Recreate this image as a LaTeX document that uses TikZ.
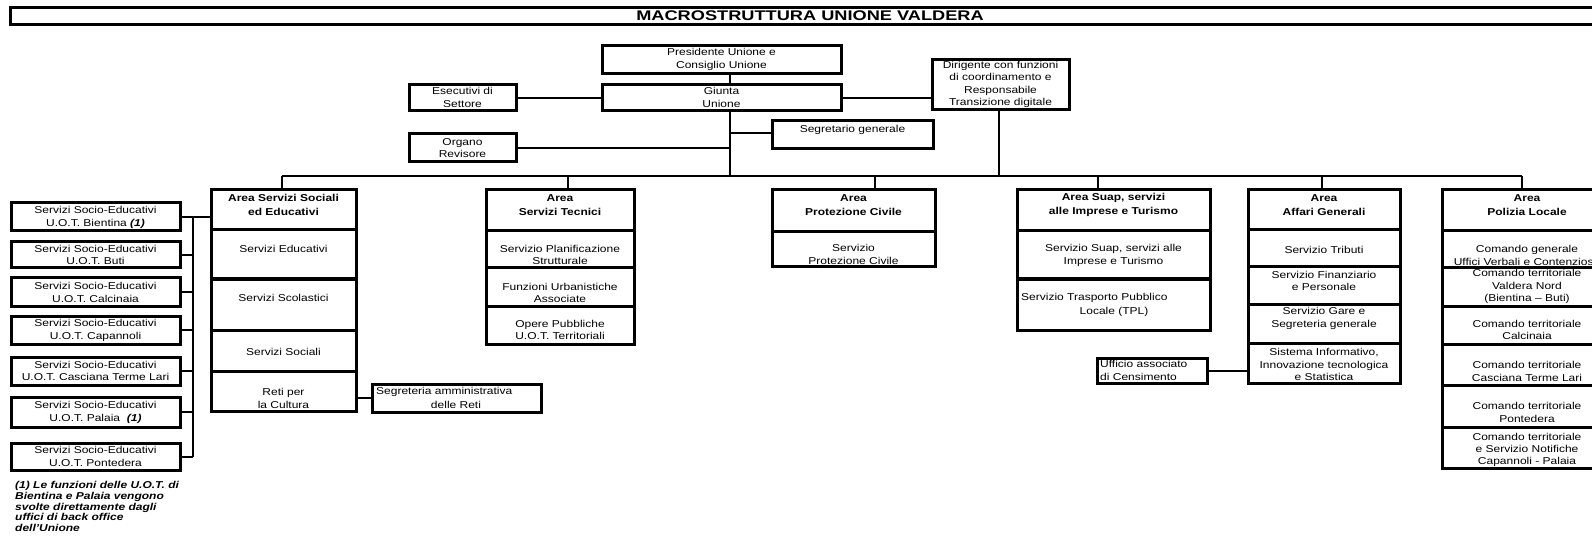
\documentclass[tikz,border=0pt]{standalone}
\usepackage{fontspec}
\setmainfont{Liberation Sans}[FakeStretch=1.2]
\newfontfamily\titlefont{Liberation Sans}[FakeStretch=1.3]
\usetikzlibrary{fit}
\tikzset{
  bx/.style={draw, line width=3pt, inner sep=0pt},
  conn/.style={line width=2pt},
  txt/.style={align=center, inner sep=0pt, font=\fontsize{10}{12.3}\selectfont},
  hdr/.style={align=center, inner sep=0pt, font=\fontsize{10}{13.5}\selectfont\bfseries},
  ttl/.style={inner sep=0pt, font=\titlefont\fontsize{14}{15}\selectfont\bfseries},
  note/.style={align=left, inner sep=0pt, font=\fontsize{10}{10.8}\selectfont\bfseries\itshape},
}
% style, name, x1, y1, x2, y2, ytext, text
\newcommand\tb[8]{%
  \node[bx, fit={(#3,#4) (#5,#6)}] (#2) {};
  \node[#1] (#2-t) at ({(#3+#5)/2},#7) {#8};}
\newcommand\eb[5]{\node[bx, fit={(#2,#3) (#4,#5)}] (#1) {};}
\newcommand\fn{\textbf{\textit{(1)}}}
\begin{document}
\begin{tikzpicture}[x=1pt,y=-1pt]
\useasboundingbox (0,0) rectangle (1592,537);
\clip (0,0) rectangle (1592,537);

% title
\eb{title}{10}{8}{1612}{25}
\node[ttl] (title-t) at (810,16) {MACROSTRUTTURA UNIONE VALDERA};

% top boxes
\tb{txt}{pres}{602}{46}{841}{74}{59.5}{Presidente Unione e\\Consiglio Unione}
\tb{txt}{giunta}{602}{85}{841}{111}{97.5}{Giunta\\Unione}
\tb{txt}{es}{409}{85}{516}{111}{97.5}{Esecutivi di\\Settore}
\tb{txt}{org}{409}{134}{516}{162}{148}{Organo\\Revisore}
\tb{txt}{dir}{932}{60}{1069}{110}{84.5}{Dirigente con funzioni\\di coordinamento e\\Responsabile\\Transizione digitale}
\tb{txt}{sg}{772}{121}{933}{149}{129.5}{Segretario generale}

% Area Servizi Sociali ed Educativi
\tb{hdr}{soch}{211}{190}{356}{230}{205}{Area Servizi Sociali\\ed Educativi}
\tb{txt}{soc1}{211}{230}{356}{279}{249}{Servizi Educativi}
\tb{txt}{soc2}{211}{279}{356}{330}{298}{Servizi Scolastici}
\tb{txt}{soc3}{211}{330}{356}{371}{352}{Servizi Sociali}
\tb{txt}{soc4}{211}{371}{356}{411}{398.5}{Reti per\\la Cultura}
\eb{segr}{372}{384}{541}{412}
\node[txt, anchor=west] (segr-a) at (376,391.5) {Segreteria amministrativa};
\node[txt] (segr-b) at (456,404.5) {delle Reti};

% Area Servizi Tecnici
\tb{hdr}{tech}{486}{190}{634}{231}{205}{Area\\Servizi Tecnici}
\tb{txt}{tec1}{486}{231}{634}{268}{255}{Servizio Planificazione\\Strutturale}
\tb{txt}{tec2}{486}{268}{634}{306}{293}{Funzioni Urbanistiche\\Associate}
\tb{txt}{tec3}{486}{306}{634}{344}{330}{Opere Pubbliche\\U.O.T. Territoriali}

% Area Protezione Civile
\tb{hdr}{proh}{772}{190}{935}{232}{205}{Area\\Protezione Civile}
\tb{txt}{pro1}{772}{232}{935}{267}{254.5}{Servizio\\Protezione Civile}

% Area Suap
\tb{hdr}{suah}{1017}{190}{1210}{231}{205}{Area Suap, servizi\\alle Imprese e Turismo}
\tb{txt}{sua1}{1017}{231}{1210}{279}{255.5}{Servizio Suap, servizi alle\\Imprese e Turismo}
\eb{sua2}{1017}{279}{1210}{330}
\node[txt, anchor=west] (sua2-a) at (1021,298) {Servizio Trasporto Pubblico};
\node[txt] (sua2-b) at (1114,312) {Locale (TPL)};

% Area Affari Generali
\tb{hdr}{affh}{1248}{190}{1400}{230}{205}{Area\\Affari Generali}
\tb{txt}{aff1}{1248}{230}{1400}{267}{250}{Servizio Tributi}
\tb{txt}{aff2}{1248}{267}{1400}{304}{281}{Servizio Finanziario\\e Personale}
\tb{txt}{aff3}{1248}{304}{1400}{343}{318.5}{Servizio Gare e\\Segreteria generale}
\tb{txt}{aff4}{1248}{343}{1400}{383}{364.5}{Sistema Informativo,\\Innovazione tecnologica\\e Statistica}
\eb{uff}{1097}{358}{1207}{383}
\node[txt, anchor=west, align=left] (uff-t) at (1100,370.5) {Ufficio associato\\di Censimento};

% Area Polizia Locale
\tb{hdr}{polh}{1442}{190}{1612}{231}{205}{Area\\Polizia Locale}
\tb{txt}{pol1}{1442}{231}{1612}{268}{255.5}{Comando generale\\Uffici Verbali e Contenzioso}
\tb{txt}{pol2}{1442}{268}{1612}{306}{286.5}{Comando territoriale\\Valdera Nord\\(Bientina – Buti)}
\tb{txt}{pol3}{1442}{306}{1612}{344}{330}{Comando territoriale\\Calcinaia}
\tb{txt}{pol4}{1442}{344}{1612}{385}{371.5}{Comando territoriale\\Casciana Terme Lari}
\tb{txt}{pol5}{1442}{385}{1612}{427}{412.5}{Comando territoriale\\Pontedera}
\tb{txt}{pol6}{1442}{427}{1612}{468}{450}{Comando territoriale\\e Servizio Notifiche\\Capannoli - Palaia}

% left column
\tb{txt}{se1}{11}{203}{180}{231}{217.5}{Servizi Socio-Educativi\\U.O.T. Bientina \fn}
\tb{txt}{se2}{11}{242}{180}{268}{255}{Servizi Socio-Educativi\\U.O.T. Buti}
\tb{txt}{se3}{11}{278}{180}{306}{292.5}{Servizi Socio-Educativi\\U.O.T. Calcinaia}
\tb{txt}{se4}{11}{316}{180}{344}{330.5}{Servizi Socio-Educativi\\U.O.T. Capannoli}
\tb{txt}{se5}{11}{357}{180}{385}{371}{Servizi Socio-Educativi\\U.O.T. Casciana Terme Lari}
\tb{txt}{se6}{11}{397}{180}{427}{412.5}{Servizi Socio-Educativi\\U.O.T. Palaia \ \fn}
\tb{txt}{se7}{11}{443}{180}{470}{456.5}{Servizi Socio-Educativi\\U.O.T. Pontedera}
\node[note, anchor=north west] (footnote) at (15,481) {(1) Le funzioni delle U.O.T. di\\Bientina e Palaia vengono\\svolte direttamente dagli\\uffici di back office\\dell'Unione};

% connectors
\coordinate (gx) at (730,0);
\coordinate (dx) at (999,0);
\coordinate (lt) at (193,0);
\coordinate (d1) at (282,176);
\coordinate (d2) at (568,176);
\coordinate (d3) at (875,176);
\coordinate (d4) at (1098,176);
\coordinate (d5) at (1322,176);
\coordinate (d6) at (1522,176);

\draw[conn] (gx |- pres.south) -- (gx |- giunta.north);
\draw[conn] (es.east) -- (giunta.west);
\draw[conn] (giunta.east) -- (giunta.east -| dir.west);
\draw[conn] (gx |- giunta.south) -- (gx |- d1);
\draw[conn] ([yshift=2pt]sg.west) -- ([yshift=2pt]sg.west -| gx);
\draw[conn] (org.east) -- (org.east -| gx);
\draw[conn] (dx |- dir.south) -- (dx |- d1);
\draw[conn] (d1) -- (d6);
\draw[conn] (d1) -- (d1 |- soch.north);
\draw[conn] (d2) -- (d2 |- tech.north);
\draw[conn] (d3) -- (d3 |- proh.north);
\draw[conn] (d4) -- (d4 |- suah.north);
\draw[conn] (d5) -- (d5 |- affh.north);
\draw[conn] (d6) -- (d6 |- polh.north);

\draw[conn] (se1.east) -- (se1.east -| soch.west);
\foreach \i in {2,...,7}{\draw[conn] (se\i.east) -- (se\i.east -| lt);}
\draw[conn] (lt |- se1.east) -- (lt |- se7.east);

\draw[conn] (segr.west) -- (segr.west -| soc4.east);
\draw[conn] (uff.east) -- (uff.east -| aff4.west);
\end{tikzpicture}
\end{document}
